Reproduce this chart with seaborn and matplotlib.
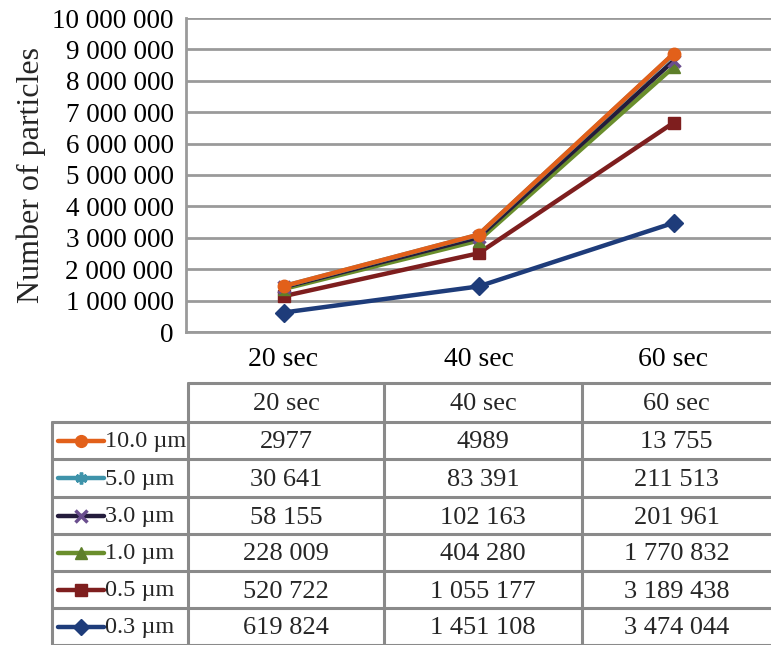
import numpy as np
import pandas as pd
import matplotlib
matplotlib.use("Agg")
import matplotlib.pyplot as plt
from matplotlib.lines import Line2D
import seaborn as sns

# ---- data ----
times = ["20 sec", "40 sec", "60 sec"]
sizes = ["10.0 µm", "5.0 µm", "3.0 µm", "1.0 µm", "0.5 µm", "0.3 µm"]
v_10 = [2977, 4989, 13755]
v_5 = [30641, 83391, 211513]
v_3 = [58155, 102163, 201961]
v_1 = [228009, 404280, 1770832]
v_05 = [520722, 1055177, 3189438]
v_03 = [619824, 1451108, 3474044]
values = [v_10, v_5, v_3, v_1, v_05, v_03]
yticks = list(range(0, 10_000_001, 1_000_000))

line_colors = {"10.0 µm": "#E2601A", "5.0 µm": "#3E93AA", "3.0 µm": "#241C3C",
               "1.0 µm": "#6A8E2C", "0.5 µm": "#7E1E1E", "0.3 µm": "#1E3C7A"}
marker_face = {"10.0 µm": "#E2601A", "5.0 µm": "#3E93AA", "3.0 µm": "#6A4E8E",
               "1.0 µm": "#5E7F2A", "0.5 µm": "#7E1E1E", "0.3 µm": "#1E3C7A"}
markers = {"10.0 µm": "o", "5.0 µm": (6, 2, 0), "3.0 µm": "x",
           "1.0 µm": "^", "0.5 µm": "s", "0.3 µm": "D"}

# stacked (cumulative from the smallest size upward)
rows = []
cum = np.zeros(3)
for s, v in zip(sizes[::-1], values[::-1]):
    cum = cum + np.array(v)
    for t, c in zip(times, cum):
        rows.append({"time": t, "size": s, "count": c})
df = pd.DataFrame(rows)

sns.set_theme(style="white")
plt.rcParams["font.family"] = ["Liberation Serif", "DejaVu Serif"]

fig = plt.figure(figsize=(7.71, 6.45), dpi=100)
W, H = 771, 645
ax = fig.add_axes([186 / W, 1 - 332 / H, (W - 186) / W, (332 - 18) / H])

for s in sizes[::-1]:
    d = df[df["size"] == s]
    sns.lineplot(data=d, x="time", y="count", ax=ax, color=line_colors[s], lw=3.2,
                 marker=markers[s], markersize=9, markerfacecolor=marker_face[s],
                 markeredgecolor=marker_face[s], markeredgewidth=2.5 if s in ("5.0 µm", "3.0 µm") else 1,
                 sort=False, legend=False, zorder=3)

ax.set_xlim(-0.5, 2.5)
ax.set_ylim(0, 10_000_000)
ax.set_yticks(yticks)
ax.set_yticklabels([f"{t:,}".replace(",", " ") for t in yticks], fontsize=19.5)
ax.set_xticks(range(3))
ax.set_xticklabels(times, fontsize=20)
ax.grid(axis="y", color="#9A9A9A", lw=2)
ax.set_axisbelow(True)
for sp in ["top", "right"]:
    ax.spines[sp].set_visible(False)
for sp in ["left", "bottom"]:
    ax.spines[sp].set_color("#9A9A9A")
    ax.spines[sp].set_linewidth(2)
ax.tick_params(axis="x", length=7, width=1.5, colors="#9A9A9A", labelcolor="black", pad=4)
ax.tick_params(axis="y", length=0, pad=9, labelcolor="black")
ax.set_xlabel("")
ax.set_ylabel("Number of particles", fontsize=23, labelpad=4)

# ---- table ----
tx = fig.add_axes([0, 0, 1, 1])
tx.set_xlim(0, W)
tx.set_ylim(H, 0)
tx.axis("off")
gc = "#8A8A8A"
col_x = [52, 188, 384, 582, 771]
row_y = [383, 422, 459, 497, 534, 571, 608, 645]
# header
tx.plot([col_x[1], col_x[4]], [row_y[0]] * 2, color=gc, lw=2.2)
for i in range(1, 8):
    tx.plot([col_x[0], col_x[4]], [row_y[i]] * 2, color=gc, lw=2.2)
tx.plot([col_x[0], col_x[0]], [row_y[1], row_y[7]], color=gc, lw=2.2)
for cx in col_x[1:4]:
    tx.plot([cx, cx], [row_y[0], row_y[7]], color=gc, lw=2.2)

fs = 19


def fmt(n):
    return str(n) if n < 10000 else f"{n:,}".replace(",", " ")


for j, t in enumerate(times):
    tx.text((col_x[j + 1] + col_x[j + 2]) / 2, (row_y[0] + row_y[1]) / 2 + 2, t,
            ha="center", va="center", fontsize=fs)
for i, (s, v) in enumerate(zip(sizes, values)):
    yc = (row_y[i + 1] + row_y[i + 2]) / 2
    tx.add_line(Line2D([58, 104], [yc, yc], color=line_colors[s], lw=3.2))
    tx.add_line(Line2D([80.5], [yc], marker=markers[s], markersize=8.5, color=marker_face[s],
                       markeredgewidth=2.5 if s in ("5.0 µm", "3.0 µm") else 1))
    tx.text(105, yc + 1, s, ha="left", va="center", fontsize=17.5)
    for j in range(3):
        tx.text((col_x[j + 1] + col_x[j + 2]) / 2, yc + 2, fmt(v[j]),
                ha="center", va="center", fontsize=fs)

fig.savefig("out.png", dpi=100)
